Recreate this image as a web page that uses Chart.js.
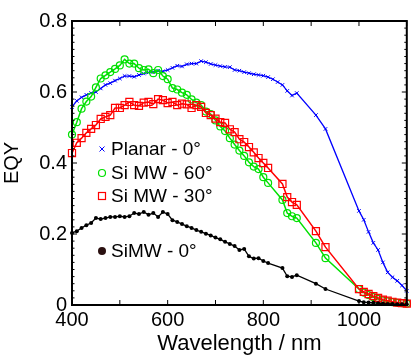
<!DOCTYPE html>
<html>
<head>
<meta charset="utf-8">
<script src="https://cdn.jsdelivr.net/npm/chart.js@4.4.1/dist/chart.umd.min.js"></script>
<style>
  html, body { margin: 0; padding: 0; background: #fff; }
  #eqyChart { display: block; }
</style>
</head>
<body>
<canvas id="eqyChart" width="413" height="355"></canvas>
<script>
// Wavelength grid (nm) shared by the Si MW series
const wavelengths = [
    400, 410, 420, 430, 440, 450, 460, 470, 480, 490,
    500, 510, 520, 530, 540, 550, 560, 570, 580, 590,
    600, 610, 620, 630, 640, 650, 660, 670, 680, 690,
    700, 710, 720, 730, 740, 750, 760, 770, 780, 790,
    800, 810, 840, 850, 860, 870, 910, 930,
    1000, 1010, 1020, 1030, 1040, 1050, 1060, 1070, 1080, 1090, 1100
];

// Planar sample was measured on a slightly different grid
const planarWavelengths = [
    400, 410, 420, 430, 440, 450, 460, 470, 480, 490,
    500, 510, 520, 530, 540, 550, 560, 570, 580, 590,
    600, 610, 620, 630, 640, 650, 660, 670, 680, 690,
    700, 710, 720, 730, 740, 750, 760, 770, 780, 790,
    800, 810, 820, 830, 840, 850, 860, 870, 910, 930,
    1000, 1010, 1020, 1030, 1040, 1050, 1060, 1070, 1080, 1090, 1100
];

const planar0 = [
    0.558, 0.575, 0.585, 0.592, 0.597, 0.600, 0.610, 0.620, 0.625, 0.632,
    0.638, 0.645, 0.645, 0.643, 0.648, 0.652, 0.655, 0.656, 0.660, 0.658,
    0.662, 0.668, 0.674, 0.672, 0.678, 0.680, 0.680, 0.687, 0.684, 0.679,
    0.676, 0.673, 0.671, 0.670, 0.662, 0.660, 0.656, 0.653, 0.650, 0.648,
    0.646, 0.642, 0.636, 0.628, 0.620, 0.603, 0.590, 0.597, 0.535, 0.496,
    0.265, 0.240, 0.206, 0.175, 0.155, 0.120, 0.092, 0.078, 0.068, 0.055, 0.040
];

const siMw60 = [
    0.480, 0.515, 0.553, 0.573, 0.587, 0.613, 0.638, 0.647, 0.656, 0.665,
    0.675, 0.692, 0.680, 0.680, 0.667, 0.662, 0.664, 0.653, 0.662, 0.645,
    0.636, 0.611, 0.607, 0.598, 0.592, 0.579, 0.570, 0.563, 0.545, 0.538,
    0.520, 0.503, 0.490, 0.470, 0.452, 0.435, 0.420, 0.402, 0.390, 0.383,
    0.360, 0.344, 0.296, 0.259, 0.250, 0.245, 0.175, 0.132,
    0.045, 0.035, 0.028, 0.022, 0.017, 0.013, 0.010, 0.008, 0.006, 0.005, 0.004
];

const siMw30 = [
    0.428, 0.457, 0.470, 0.485, 0.496, 0.507, 0.524, 0.530, 0.535, 0.555,
    0.555, 0.563, 0.572, 0.563, 0.561, 0.570, 0.572, 0.566, 0.580, 0.577,
    0.569, 0.572, 0.563, 0.567, 0.565, 0.555, 0.563, 0.558, 0.541, 0.535,
    0.525, 0.515, 0.513, 0.495, 0.487, 0.467, 0.459, 0.445, 0.430, 0.414,
    0.400, 0.386, 0.341, 0.304, 0.290, 0.282, 0.208, 0.163,
    0.045, 0.037, 0.031, 0.025, 0.020, 0.015, 0.012, 0.009, 0.007, 0.005, 0.004
];

const siMw0 = [
    0.203, 0.208, 0.217, 0.225, 0.231, 0.245, 0.242, 0.245, 0.248, 0.248,
    0.250, 0.248, 0.250, 0.259, 0.256, 0.262, 0.254, 0.259, 0.248, 0.262,
    0.256, 0.239, 0.234, 0.228, 0.222, 0.217, 0.211, 0.206, 0.201, 0.196,
    0.190, 0.185, 0.178, 0.172, 0.166, 0.155, 0.158, 0.137, 0.131, 0.132,
    0.124, 0.118, 0.104, 0.081, 0.079, 0.084, 0.060, 0.045,
    0.011, 0.008, 0.007, 0.006, 0.005, 0.004, 0.003, 0.003, 0.002, 0.002, 0.002
];

const xTickLabels = [400, 600, 800, 1000];
const legendLabels = ['Planar - 0\u00B0', 'Si MW - 60\u00B0', 'Si MW - 30\u00B0', 'SiMW - 0\u00B0'];

const FONT = '"Liberation Sans", Arial, sans-serif';

function toPoints(xs, ys) {
    return xs.map((w, i) => ({ x: w, y: ys[i] }));
}

// inward ticks on all four sides plus the box frame
const frameTicks = {
    id: 'frameTicks',
    afterDraw(chart) {
        const { ctx, chartArea: a, scales: { x, y } } = chart;
        ctx.save();
        ctx.strokeStyle = '#000';
        ctx.lineWidth = 1;
        ctx.beginPath();
        for (let v = 400; v <= 1100; v += 100) {
            const px = x.getPixelForValue(v);
            ctx.moveTo(px, a.bottom);
            ctx.lineTo(px, a.bottom - 5);
            ctx.moveTo(px, a.top);
            ctx.lineTo(px, a.top + 5);
        }
        for (let i = 0; i <= 40; i++) {
            const py = y.getPixelForValue(i * 0.02);
            const len = i % 10 === 0 ? 5 : 2.5;
            ctx.moveTo(a.left, py);
            ctx.lineTo(a.left + len, py);
            ctx.moveTo(a.right, py);
            ctx.lineTo(a.right - len, py);
        }
        ctx.stroke();
        ctx.lineWidth = 2;
        ctx.strokeRect(a.left, a.top, a.right - a.left, a.bottom - a.top);
        ctx.restore();
    }
};

// legend drawn inside the plot, left side
const insideLegend = {
    id: 'insideLegend',
    afterDraw(chart) {
        const { ctx } = chart;
        const rows = [
            { y: 149, draw: (cx, cy) => {
                ctx.strokeStyle = '#0000ff'; ctx.lineWidth = 1;
                ctx.beginPath();
                ctx.moveTo(cx - 2.5, cy - 2.5); ctx.lineTo(cx + 2.5, cy + 2.5);
                ctx.moveTo(cx - 2.5, cy + 2.5); ctx.lineTo(cx + 2.5, cy - 2.5);
                ctx.stroke();
            } },
            { y: 173, draw: (cx, cy) => {
                ctx.strokeStyle = '#00e000'; ctx.lineWidth = 1.2;
                ctx.beginPath(); ctx.arc(cx, cy, 3.5, 0, Math.PI * 2); ctx.stroke();
            } },
            { y: 196, draw: (cx, cy) => {
                ctx.strokeStyle = '#ff0000'; ctx.lineWidth = 1.2;
                ctx.strokeRect(cx - 3.5, cy - 3.5, 7, 7);
            } },
            { y: 251, draw: (cx, cy) => {
                ctx.fillStyle = '#2a1010';
                ctx.beginPath(); ctx.arc(cx, cy, 4, 0, Math.PI * 2); ctx.fill();
            } }
        ];
        ctx.save();
        rows.forEach((r, i) => {
            r.draw(102, r.y);
            ctx.fillStyle = '#000';
            ctx.font = '19px ' + FONT;
            ctx.textAlign = 'left';
            ctx.textBaseline = 'middle';
            ctx.fillText(legendLabels[i], 111, r.y + 1);
        });
        ctx.restore();
    }
};

const ctx = document.getElementById('eqyChart').getContext('2d');

new Chart(ctx, {
    type: 'line',
    data: {
        datasets: [
            {
                label: legendLabels[3],
                data: toPoints(wavelengths, siMw0),
                borderColor: '#000000',
                backgroundColor: '#000000',
                borderWidth: 1.3,
                pointStyle: 'circle',
                pointRadius: 2,
                pointBorderWidth: 0,
                clip: false
            },
            {
                label: legendLabels[2],
                data: toPoints(wavelengths, siMw30),
                borderColor: '#ff0000',
                backgroundColor: 'rgba(0,0,0,0)',
                borderWidth: 1.5,
                pointStyle: 'rect',
                pointRadius: 5,
                pointBorderWidth: 1.2,
                clip: false
            },
            {
                label: legendLabels[1],
                data: toPoints(wavelengths, siMw60),
                borderColor: '#00e000',
                backgroundColor: 'rgba(0,0,0,0)',
                borderWidth: 1.5,
                pointStyle: 'circle',
                pointRadius: 3.5,
                pointBorderWidth: 1.2,
                clip: false
            },
            {
                label: legendLabels[0],
                data: toPoints(planarWavelengths, planar0),
                borderColor: '#0000ff',
                backgroundColor: '#0000ff',
                borderWidth: 1.3,
                pointStyle: 'crossRot',
                pointRadius: 2.5,
                pointBorderWidth: 1,
                clip: false
            }
        ]
    },
    options: {
        responsive: false,
        animation: false,
        devicePixelRatio: 1,
        layout: { padding: { top: 21, right: 1, left: 0, bottom: 0 } },
        plugins: {
            legend: { display: false },
            tooltip: { enabled: false }
        },
        elements: { line: { tension: 0 } },
        scales: {
            x: {
                type: 'linear',
                min: 400,
                max: 1100,
                grid: { display: false, drawTicks: false },
                border: { display: false },
                ticks: {
                    stepSize: 100,
                    padding: 3,
                    maxRotation: 0,
                    color: '#000',
                    font: { family: FONT, size: 20 },
                    callback: (v) => xTickLabels.includes(v) ? String(v) : ''
                },
                title: {
                    display: true,
                    text: 'Wavelength / nm',
                    color: '#000',
                    font: { family: FONT, size: 22, lineHeight: 1.0 },
                    padding: 0
                },
                afterFit: (scale) => { scale.height = 50; }
            },
            y: {
                min: 0,
                max: 0.8,
                grid: { display: false, drawTicks: false },
                border: { display: false },
                ticks: {
                    stepSize: 0.2,
                    padding: 5,
                    color: '#000',
                    font: { family: FONT, size: 20 }
                },
                title: {
                    display: true,
                    text: 'EQY',
                    color: '#000',
                    font: { family: FONT, size: 20 },
                    padding: { top: 0, bottom: 6 }
                },
                afterFit: (scale) => { scale.width = 72; }
            }
        }
    },
    plugins: [frameTicks, insideLegend]
});
</script>
</body>
</html>
